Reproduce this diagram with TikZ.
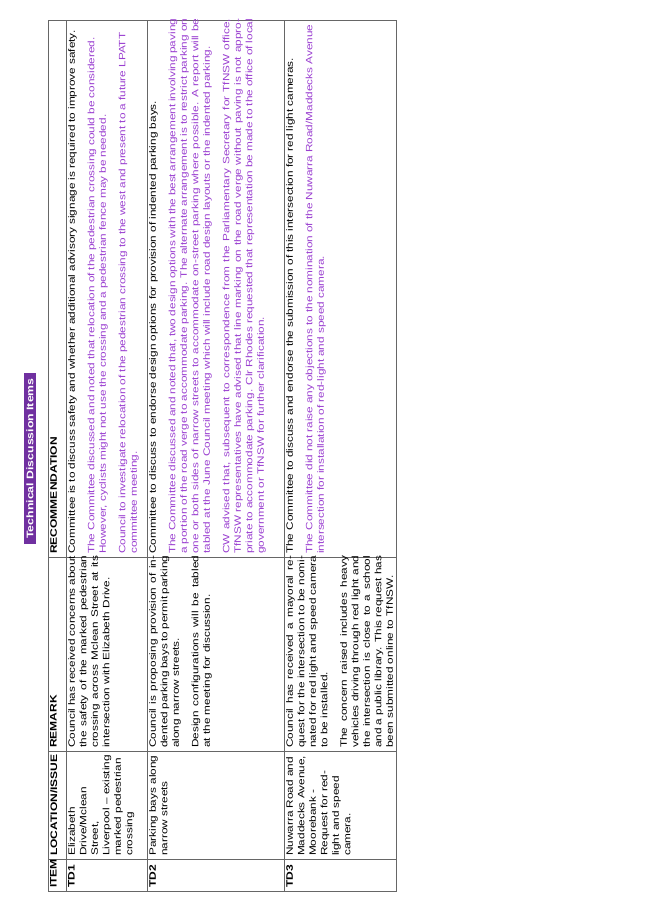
\documentclass[tikz,border=0pt]{standalone}
\usepackage{fontspec}
\setmainfont[FakeStretch=1.28]{Liberation Sans}
\definecolor{tpurple}{HTML}{9A3FD0}
\definecolor{tbg}{HTML}{7030A0}
\begin{document}
\begin{tikzpicture}[x=1pt,y=-1pt,
  grid/.style={draw=gray!80!black,line width=0.9pt},
  cell/.style={rotate=90,anchor=north west,inner xsep=1pt,inner ysep=1pt,align=justify,
    font=\fontsize{9.2}{11.5}\selectfont},
  head/.style={rotate=90,anchor=north west,inner sep=1pt,font=\fontsize{9.4}{11.5}\selectfont\bfseries}]
\useasboundingbox (0,0) rectangle (652,922);
% title
\node[fill=tbg,text=white,font=\fontsize{9.6}{11}\selectfont\bfseries,rotate=90,minimum width=171pt,minimum height=12pt,inner sep=0pt] (title) at (30,458.5) {Technical Discussion Items};
% grid
\draw[grid] (48,20) rectangle (396,891);
\foreach \x in {66,147,284}{\draw[grid] (\x,20) -- (\x,891);}
\draw[grid] (48,859) -- (396,859);
\draw[grid] (48,751) -- (396,751);
\draw[grid] (48,557) -- (396,557);
% headers
\node[head] (h1) at (49,889) {ITEM};
\node[head] (h2) at (49,857) {LOCATION/ISSUE};
\node[head] (h3) at (49,749) {REMARK};
\node[head] (h4) at (49,555) {RECOMMENDATION};
% item
\node[head] (i1) at (67,889) {TD1};
\node[head] (i2) at (148,889) {TD2};
\node[head] (i3) at (285,889) {TD3};
% location
\node[cell,align=left] (l1) at (67,857) {Elizabeth\\Drive/Mclean\\Street,\\Liverpool -- existing\\marked pedestrian\\crossing};
\node[cell,align=left] (l2) at (148,857) {Parking bays along\\narrow streets};
\node[cell,align=left] (l3) at (285,857) {Nuwarra Road and\\Maddecks Avenue,\\Moorebank -\\Request for red-\\light and speed\\camera.};
% remark
\node[cell,text width=192pt] (r1) at (67,749) {Council has received concerns about the safety of the marked pedestrian crossing across Mclean Street at its intersection with Elizabeth Drive.};
\node[cell,text width=192pt] (r2) at (148,749) {Council is proposing provision of indented parking bays to permit parking along narrow streets.\par\vspace{8pt}
Design configurations will be tabled at the meeting for discussion.};
\node[cell,text width=192pt] (r3) at (285,749) {Council has received a mayoral request for the intersection to be nominated for red light and speed camera to be installed.\par\vspace{8pt}
\raggedright The concern raised includes heavy vehicles driving through red light and the intersection is close to a school and a public library. This request has been submitted online to TfNSW.};
% recommendation
\node[cell,text width=535pt,align=left] (c1) at (67,555) {Committee is to discuss safety and whether additional advisory signage is required to improve safety.\par\vspace{8pt}
\color{tpurple}The Committee discussed and noted that relocation of the pedestrian crossing could be considered. However, cyclists might not use the crossing and a pedestrian fence may be needed.\par\vspace{8pt}
Council to investigate relocation of the pedestrian crossing to the west and present to a future LPATT committee meeting.};
\node[cell,text width=535pt] (c2) at (148,555) {Committee to discuss to endorse design options for provision of indented parking bays.\par\vspace{8pt}
\color{tpurple}The Committee discussed and noted that, two design options with the best arrangement involving paving a portion of the road verge to accommodate parking. The alternate arrangement is to restrict parking on one or both sides of narrow streets to accommodate on-street parking where possible. A report will be tabled at the June Council meeting which will include road design layouts or the indented parking.\par\vspace{8pt}
CW advised that, subsequent to correspondence from the Parliamentary Secretary for TfNSW office, TfNSW representatives have advised that line marking on the road verge without paving is not appropriate to accommodate parking. Clr Rhodes requested that representation be made to the office of local government or TfNSW for further clarification.};
\node[cell,text width=535pt,align=left] (c3) at (285,555) {The Committee to discuss and endorse the submission of this intersection for red light cameras.\par\vspace{8pt}
\color{tpurple}The Committee did not raise any objections to the nomination of the Nuwarra Road/Maddecks Avenue intersection for installation of red-light and speed camera.};
\end{tikzpicture}
\end{document}
